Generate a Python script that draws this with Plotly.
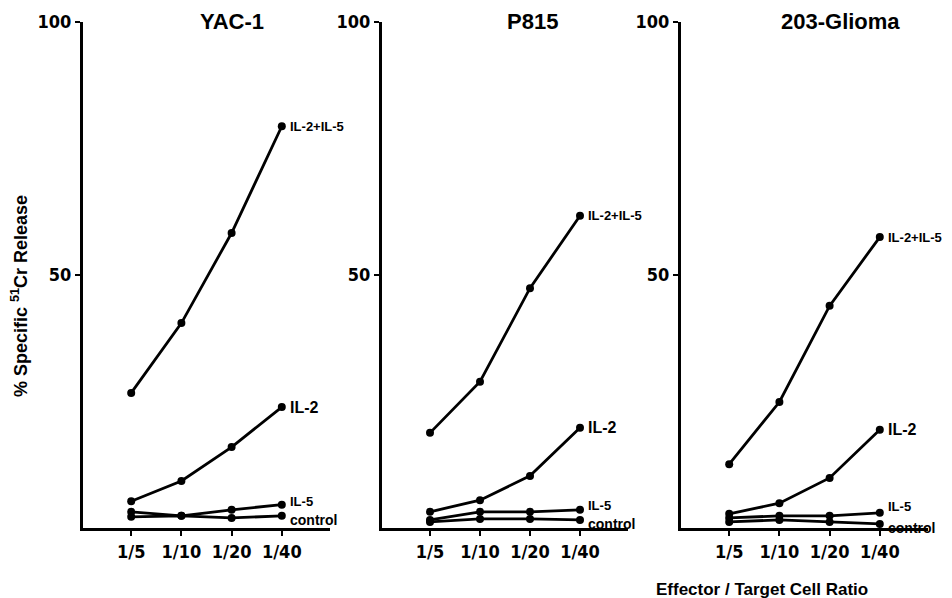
import plotly.graph_objects as go

ratios = ["1/5", "1/10", "1/20", "1/40"]
xpos = [1, 2, 3, 4]
panels = ["YAC-1", "P815", "203-Glioma"]
series_names = ["IL-2+IL-5", "IL-2", "IL-5", "control"]

yac1_il2_il5 = [26.7, 40.5, 58.3, 79.4]
yac1_il2 = [5.3, 9.3, 16.0, 23.9]
yac1_il5 = [3.2, 2.4, 3.6, 4.6]
yac1_control = [2.2, 2.4, 2.0, 2.4]

p815_il2_il5 = [18.8, 28.9, 47.4, 61.7]
p815_il2 = [3.2, 5.5, 10.3, 19.8]
p815_il5 = [1.6, 3.2, 3.2, 3.6]
p815_control = [1.2, 1.8, 1.8, 1.6]

glioma_il2_il5 = [12.6, 24.9, 43.9, 57.5]
glioma_il2 = [2.8, 4.9, 9.9, 19.4]
glioma_il5 = [2.0, 2.4, 2.4, 3.0]
glioma_control = [1.2, 1.6, 1.2, 0.8]

y_ticks = [50, 100]

data = [
    [yac1_il2_il5, yac1_il2, yac1_il5, yac1_control],
    [p815_il2_il5, p815_il2, p815_il5, p815_control],
    [glioma_il2_il5, glioma_il2, glioma_il5, glioma_control],
]

W, H = 952, 598
x_domains = [(83, 330), (382, 628), (681, 928)]
title_x = [232, 532, 840]
y_bottom, y_top = 528, 22
label_yshift = [[0, 0, 3, -4], [0, 0, 4, -4], [0, 0, 6, -4]]
label_size = {"IL-2+IL-5": 13, "IL-2": 16, "IL-5": 13, "control": 14}
narrow_font = "DejaVu Sans Condensed, Liberation Sans Narrow, Arial Narrow, sans-serif"
main_font = "Liberation Sans, Arial, Helvetica, sans-serif"

fig = go.Figure()
annotations = []
for p, (name, series) in enumerate(zip(panels, data)):
    sfx = "" if p == 0 else str(p + 1)
    for s, vals in zip(series_names, series):
        fig.add_trace(go.Scatter(
            x=xpos, y=vals, mode="lines+markers",
            line=dict(color="black", width=2.8),
            marker=dict(color="black", size=8),
            xaxis="x" + sfx, yaxis="y" + sfx, showlegend=False,
            name=s, hoverinfo="skip",
        ))
    for i, (s, vals) in enumerate(zip(series_names, series)):
        annotations.append(dict(
            x=xpos[-1], y=vals[-1], xref="x" + sfx, yref="y" + sfx,
            text="<b>%s</b>" % s, showarrow=False, xanchor="left", yanchor="middle",
            xshift=7, yshift=label_yshift[p][i], borderpad=0,
            font=dict(family=main_font, size=label_size[s], color="black"),
        ))
    x0, x1 = x_domains[p]
    annotations.append(dict(
        x=title_x[p] / W, y=1 - 22 / H, xref="paper", yref="paper",
        text="<b>%s</b>" % name, showarrow=False, xanchor="center", yanchor="middle",
        font=dict(family=main_font, size=22, color="black"),
    ))
    xa = dict(
        domain=[x0 / W, x1 / W], range=[0.04, 4.96],
        tickvals=xpos, ticktext=ratios, ticks="outside", ticklen=5, tickwidth=2,
        tickcolor="black", showline=True, linecolor="black", linewidth=3,
        showgrid=False, zeroline=False, automargin=False,
        tickfont=dict(family=narrow_font, size=18, color="black", weight="bold"),
        anchor="y" + sfx,
    )
    ya = dict(
        domain=[1 - y_bottom / H, 1 - y_top / H], range=[0, 100],
        tickvals=y_ticks, ticktext=[str(v) for v in y_ticks], ticks="outside", ticklen=5,
        tickwidth=2, tickcolor="black", showline=True, linecolor="black", linewidth=3,
        showgrid=False, zeroline=False, automargin=False,
        tickfont=dict(family=narrow_font, size=18, color="black", weight="bold"),
        anchor="x" + sfx,
    )
    fig.update_layout(**{"xaxis" + sfx: xa, "yaxis" + sfx: ya})

annotations.append(dict(
    x=19 / W, y=1 - 296 / H, xref="paper", yref="paper",
    text="<b>% Specific <sup>51</sup>Cr Release</b>", textangle=-90,
    showarrow=False, xanchor="center", yanchor="middle",
    font=dict(family=main_font, size=18, color="black"),
))
annotations.append(dict(
    x=762 / W, y=1 - 589 / H, xref="paper", yref="paper",
    text="<b>Effector / Target Cell Ratio</b>", showarrow=False,
    xanchor="center", yanchor="middle",
    font=dict(family=main_font, size=17, color="black"),
))

fig.update_layout(
    width=W, height=H, margin=dict(l=0, r=0, t=0, b=0, autoexpand=False),
    paper_bgcolor="white", plot_bgcolor="white",
    annotations=annotations,
)
fig.write_html("out.html", config={"displayModeBar": False},
               post_script="document.body.style.margin='0';")
